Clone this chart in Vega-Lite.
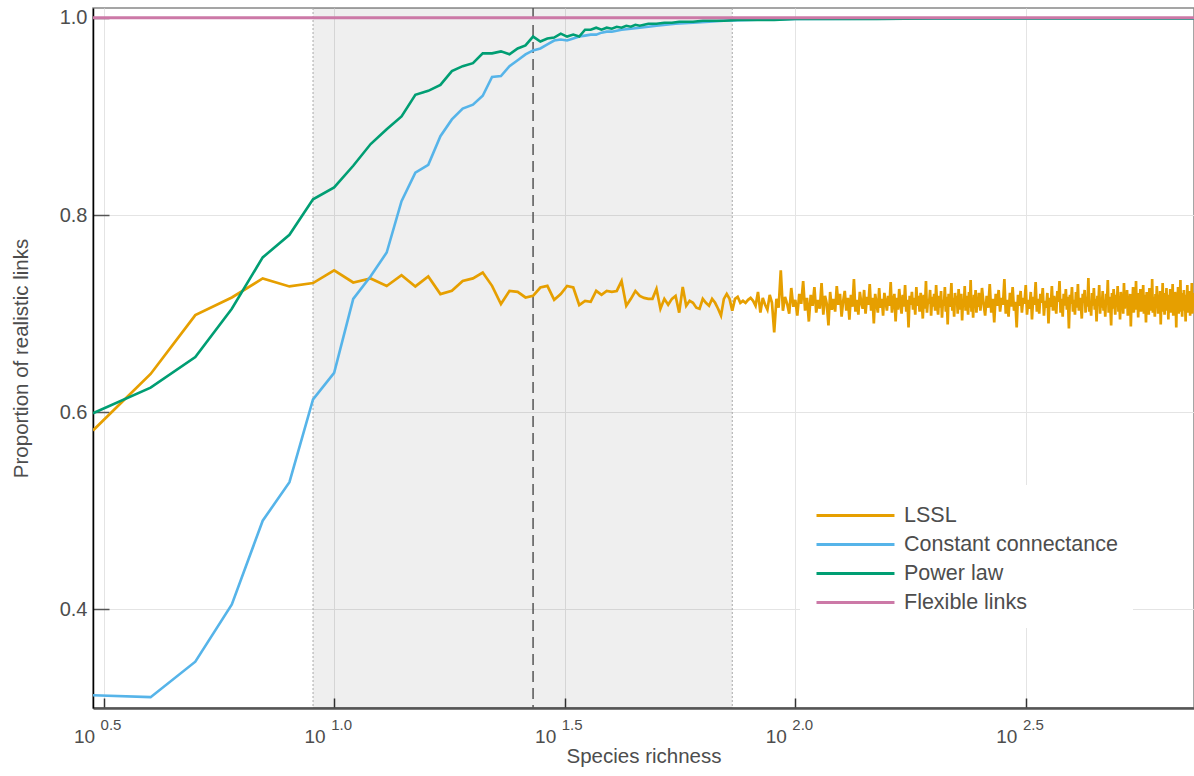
{
  "$schema": "https://vega.github.io/schema/vega-lite/v6.json",
  "width": 1101,
  "height": 700,
  "autosize": {"type": "none"},
  "padding": {"left": 93, "top": 8, "right": 0, "bottom": 68},
  "background": "white",
  "config": {
    "font": "Liberation Sans",
    "view": {"stroke": "#888888", "strokeWidth": 1.5},
    "axis": {
      "gridColor": "#e4e4e4",
      "gridWidth": 1,
      "labelColor": "#4d4d4d",
      "titleColor": "#4d4d4d",
      "labelFont": "Liberation Sans",
      "titleFont": "Liberation Sans",
      "titleFontWeight": "normal",
      "labelFontSize": 20,
      "titleFontSize": 20.5
    },
    "legend": {
      "orient": "none",
      "legendX": 707,
      "legendY": 477,
      "padding": 15,
      "fillColor": "white",
      "symbolType": "M-1,0L4.57,0",
      "symbolSize": 784,
      "symbolStrokeWidth": 3,
      "labelFontSize": 21.5,
      "labelFont": "Liberation Sans",
      "labelColor": "#4d4d4d",
      "labelOffset": 58,
      "labelLimit": 400,
      "rowPadding": 3,
      "title": null
    }
  },
  "datasets": {
    "band": [{"S": 9, "S2": 73, "p": 0.3, "p2": 1.01}],
    "edges": [{"S": 9}, {"S": 73}],
    "median": [{"S": 27}],
    "expo": [
      {"S": 3.16228, "lab": "0.5"},
      {"S": 10, "lab": "1.0"},
      {"S": 31.6228, "lab": "1.5"},
      {"S": 100, "lab": "2.0"},
      {"S": 316.228, "lab": "2.5"}
    ],
    "fl": [{"S": 3, "p": 1.0}, {"S": 50, "p": 1.0}, {"S": 735, "p": 1.0}],
    "cc": [
      {"S": 3, "p": 0.313}, {"S": 4, "p": 0.311}, {"S": 5, "p": 0.347}, {"S": 6, "p": 0.405},
      {"S": 7, "p": 0.49}, {"S": 8, "p": 0.529}, {"S": 9, "p": 0.613}, {"S": 10, "p": 0.64},
      {"S": 11, "p": 0.715}, {"S": 12, "p": 0.738}, {"S": 13, "p": 0.762}, {"S": 14, "p": 0.814},
      {"S": 15, "p": 0.843}, {"S": 16, "p": 0.851}, {"S": 17, "p": 0.88}, {"S": 18, "p": 0.897},
      {"S": 19, "p": 0.908}, {"S": 20, "p": 0.912}, {"S": 21, "p": 0.921}, {"S": 22, "p": 0.94},
      {"S": 23, "p": 0.941}, {"S": 24, "p": 0.951}, {"S": 25, "p": 0.957}, {"S": 26, "p": 0.963},
      {"S": 27, "p": 0.967}, {"S": 28, "p": 0.969}, {"S": 29, "p": 0.973}, {"S": 30, "p": 0.977},
      {"S": 31, "p": 0.978}, {"S": 32, "p": 0.977}, {"S": 33, "p": 0.979}, {"S": 34, "p": 0.981},
      {"S": 35, "p": 0.982}, {"S": 36, "p": 0.983}, {"S": 37, "p": 0.983}, {"S": 38, "p": 0.985},
      {"S": 39, "p": 0.986}, {"S": 40, "p": 0.986}, {"S": 41, "p": 0.987}, {"S": 42, "p": 0.988},
      {"S": 44, "p": 0.989}, {"S": 46, "p": 0.99}, {"S": 48, "p": 0.991}, {"S": 50, "p": 0.992},
      {"S": 55, "p": 0.994}, {"S": 60, "p": 0.995}, {"S": 65, "p": 0.996}, {"S": 70, "p": 0.997},
      {"S": 80, "p": 0.998}, {"S": 100, "p": 0.999}, {"S": 735, "p": 0.9995}
    ],
    "pl": [
      {"S": 3, "p": 0.599}, {"S": 4, "p": 0.625}, {"S": 5, "p": 0.656}, {"S": 6, "p": 0.705},
      {"S": 7, "p": 0.757}, {"S": 8, "p": 0.78}, {"S": 9, "p": 0.816}, {"S": 10, "p": 0.828},
      {"S": 11, "p": 0.85}, {"S": 12, "p": 0.872}, {"S": 13, "p": 0.887}, {"S": 14, "p": 0.9},
      {"S": 15, "p": 0.922}, {"S": 16, "p": 0.926}, {"S": 17, "p": 0.932}, {"S": 18, "p": 0.946},
      {"S": 19, "p": 0.951}, {"S": 20, "p": 0.954}, {"S": 21, "p": 0.964}, {"S": 22, "p": 0.964},
      {"S": 23, "p": 0.966}, {"S": 24, "p": 0.963}, {"S": 25, "p": 0.969}, {"S": 26, "p": 0.972},
      {"S": 27, "p": 0.981}, {"S": 28, "p": 0.976}, {"S": 29, "p": 0.979}, {"S": 30, "p": 0.98},
      {"S": 31, "p": 0.984}, {"S": 32, "p": 0.981}, {"S": 33, "p": 0.983}, {"S": 34, "p": 0.981},
      {"S": 35, "p": 0.988}, {"S": 36, "p": 0.988}, {"S": 37, "p": 0.99}, {"S": 38, "p": 0.988},
      {"S": 39, "p": 0.99}, {"S": 40, "p": 0.989}, {"S": 41, "p": 0.991}, {"S": 42, "p": 0.99},
      {"S": 43, "p": 0.992}, {"S": 44, "p": 0.991}, {"S": 45, "p": 0.993}, {"S": 46, "p": 0.992},
      {"S": 47, "p": 0.993}, {"S": 48, "p": 0.994}, {"S": 50, "p": 0.994}, {"S": 52, "p": 0.995},
      {"S": 54, "p": 0.995}, {"S": 56, "p": 0.996}, {"S": 58, "p": 0.996}, {"S": 60, "p": 0.996},
      {"S": 63, "p": 0.997}, {"S": 66, "p": 0.997}, {"S": 70, "p": 0.997}, {"S": 75, "p": 0.998},
      {"S": 80, "p": 0.998}, {"S": 90, "p": 0.998}, {"S": 100, "p": 0.999}, {"S": 150, "p": 0.999},
      {"S": 200, "p": 0.9995}, {"S": 735, "p": 0.9995}
    ],
    "lssl": [
      {"S": 3, "p": 0.5815}, {"S": 4, "p": 0.6388}, {"S": 5, "p": 0.6985}, {"S": 6, "p": 0.7164},
      {"S": 7, "p": 0.7357}, {"S": 8, "p": 0.7276}, {"S": 9, "p": 0.731}, {"S": 10, "p": 0.744},
      {"S": 11, "p": 0.7316}, {"S": 12, "p": 0.7357}, {"S": 13, "p": 0.728}, {"S": 14, "p": 0.739},
      {"S": 15, "p": 0.7276}, {"S": 16, "p": 0.7377}, {"S": 17, "p": 0.7198}, {"S": 18, "p": 0.7231},
      {"S": 19, "p": 0.7332}, {"S": 20, "p": 0.7357}, {"S": 21, "p": 0.7417}, {"S": 22, "p": 0.7282},
      {"S": 23, "p": 0.7097}, {"S": 24, "p": 0.7231}, {"S": 25, "p": 0.7221}, {"S": 26, "p": 0.7164},
      {"S": 27, "p": 0.718}, {"S": 28, "p": 0.7265}, {"S": 29, "p": 0.7282}, {"S": 30, "p": 0.714},
      {"S": 31, "p": 0.7198}, {"S": 32, "p": 0.728}, {"S": 33, "p": 0.7265}, {"S": 34, "p": 0.7087},
      {"S": 35, "p": 0.713}, {"S": 36, "p": 0.712}, {"S": 37, "p": 0.7231}, {"S": 38, "p": 0.719},
      {"S": 39, "p": 0.723}, {"S": 40, "p": 0.722}, {"S": 41, "p": 0.723}, {"S": 42, "p": 0.733},
      {"S": 43, "p": 0.708}, {"S": 44, "p": 0.715}, {"S": 45, "p": 0.723}, {"S": 46, "p": 0.718},
      {"S": 47, "p": 0.716}, {"S": 48, "p": 0.715}, {"S": 49, "p": 0.715}, {"S": 50, "p": 0.725},
      {"S": 51, "p": 0.705}, {"S": 52, "p": 0.715}, {"S": 53, "p": 0.709}, {"S": 54, "p": 0.715},
      {"S": 55, "p": 0.718}, {"S": 56, "p": 0.701}, {"S": 57, "p": 0.727}, {"S": 58, "p": 0.708},
      {"S": 59, "p": 0.713}, {"S": 60, "p": 0.711}, {"S": 61, "p": 0.706}, {"S": 62, "p": 0.705},
      {"S": 63, "p": 0.715}, {"S": 64, "p": 0.711}, {"S": 65, "p": 0.708}, {"S": 66, "p": 0.715},
      {"S": 67, "p": 0.711}, {"S": 68, "p": 0.705}, {"S": 69, "p": 0.698}, {"S": 70, "p": 0.715},
      {"S": 71, "p": 0.72}, {"S": 72, "p": 0.715}, {"S": 73, "p": 0.703}, {"S": 74, "p": 0.715},
      {"S": 75, "p": 0.717}, {"S": 76, "p": 0.711}, {"S": 77, "p": 0.713}, {"S": 78, "p": 0.711},
      {"S": 79, "p": 0.714}, {"S": 80, "p": 0.716},
      {"S": 81, "p": 0.713}, {"S": 82, "p": 0.708}, {"S": 83, "p": 0.722}, {"S": 84, "p": 0.701},
      {"S": 85, "p": 0.716}, {"S": 86, "p": 0.709}, {"S": 87, "p": 0.704}, {"S": 88, "p": 0.719},
      {"S": 89, "p": 0.711}, {"S": 90, "p": 0.681}, {"S": 91, "p": 0.715}, {"S": 92, "p": 0.706},
      {"S": 93, "p": 0.744}, {"S": 94, "p": 0.703}, {"S": 95, "p": 0.717}, {"S": 96, "p": 0.71},
      {"S": 97, "p": 0.7}, {"S": 98, "p": 0.726}, {"S": 99, "p": 0.707}, {"S": 100, "p": 0.714},
      {"S": 101, "p": 0.698}, {"S": 102, "p": 0.72}, {"S": 103, "p": 0.71}, {"S": 104, "p": 0.733},
      {"S": 105, "p": 0.703}, {"S": 106, "p": 0.716}, {"S": 107, "p": 0.692}, {"S": 108, "p": 0.719},
      {"S": 109, "p": 0.708}, {"S": 110, "p": 0.727}, {"S": 111, "p": 0.701}, {"S": 112, "p": 0.714},
      {"S": 113, "p": 0.705}, {"S": 114, "p": 0.731}, {"S": 115, "p": 0.699}, {"S": 116, "p": 0.718},
      {"S": 117, "p": 0.71}, {"S": 118, "p": 0.688}, {"S": 119, "p": 0.722}, {"S": 120, "p": 0.704},
      {"S": 121, "p": 0.715}, {"S": 122, "p": 0.702}, {"S": 123, "p": 0.728}, {"S": 124, "p": 0.709},
      {"S": 125, "p": 0.72}, {"S": 126, "p": 0.697}, {"S": 127, "p": 0.713}, {"S": 128, "p": 0.723},
      {"S": 129, "p": 0.703}, {"S": 130, "p": 0.716}, {"S": 131, "p": 0.694}, {"S": 132, "p": 0.719},
      {"S": 133, "p": 0.707}, {"S": 134, "p": 0.735}, {"S": 135, "p": 0.702}, {"S": 136, "p": 0.714},
      {"S": 137, "p": 0.699}, {"S": 138, "p": 0.722}, {"S": 139, "p": 0.711}, {"S": 140, "p": 0.705},
      {"S": 141, "p": 0.724}, {"S": 142, "p": 0.7}, {"S": 143, "p": 0.717}, {"S": 144, "p": 0.709},
      {"S": 145, "p": 0.73}, {"S": 146, "p": 0.703}, {"S": 147, "p": 0.716}, {"S": 148, "p": 0.69},
      {"S": 149, "p": 0.72}, {"S": 150, "p": 0.71}, {"S": 151, "p": 0.701}, {"S": 152, "p": 0.726},
      {"S": 153, "p": 0.706}, {"S": 154, "p": 0.715}, {"S": 155, "p": 0.698}, {"S": 156, "p": 0.721},
      {"S": 157, "p": 0.712}, {"S": 158, "p": 0.703}, {"S": 159, "p": 0.718}, {"S": 160, "p": 0.708},
      {"S": 161, "p": 0.732}, {"S": 162, "p": 0.701}, {"S": 163, "p": 0.713}, {"S": 164, "p": 0.72},
      {"S": 165, "p": 0.692}, {"S": 166, "p": 0.716}, {"S": 167, "p": 0.704}, {"S": 168, "p": 0.725},
      {"S": 169, "p": 0.711}, {"S": 170, "p": 0.7}, {"S": 171, "p": 0.719}, {"S": 172, "p": 0.707},
      {"S": 173, "p": 0.729}, {"S": 174, "p": 0.702}, {"S": 175, "p": 0.714}, {"S": 176, "p": 0.686},
      {"S": 177, "p": 0.718}, {"S": 178, "p": 0.709}, {"S": 179, "p": 0.722}, {"S": 180, "p": 0.704},
      {"S": 181, "p": 0.716}, {"S": 182, "p": 0.699}, {"S": 183, "p": 0.727}, {"S": 184, "p": 0.708},
      {"S": 185, "p": 0.718}, {"S": 186, "p": 0.702}, {"S": 187, "p": 0.721}, {"S": 188, "p": 0.712},
      {"S": 189, "p": 0.695}, {"S": 190, "p": 0.719}, {"S": 191, "p": 0.705}, {"S": 192, "p": 0.733},
      {"S": 193, "p": 0.701}, {"S": 194, "p": 0.715}, {"S": 195, "p": 0.71}, {"S": 196, "p": 0.724},
      {"S": 197, "p": 0.698}, {"S": 198, "p": 0.717}, {"S": 199, "p": 0.707}, {"S": 200, "p": 0.72},
      {"S": 201, "p": 0.703}, {"S": 202, "p": 0.729}, {"S": 203, "p": 0.709}, {"S": 204, "p": 0.699},
      {"S": 205, "p": 0.718}, {"S": 206, "p": 0.706}, {"S": 207, "p": 0.723}, {"S": 208, "p": 0.696},
      {"S": 209, "p": 0.714}, {"S": 210, "p": 0.708}, {"S": 211, "p": 0.727}, {"S": 212, "p": 0.702},
      {"S": 213, "p": 0.717}, {"S": 214, "p": 0.689}, {"S": 215, "p": 0.72}, {"S": 216, "p": 0.707},
      {"S": 217, "p": 0.713}, {"S": 218, "p": 0.731}, {"S": 219, "p": 0.703}, {"S": 220, "p": 0.716},
      {"S": 221, "p": 0.697}, {"S": 222, "p": 0.721}, {"S": 223, "p": 0.709}, {"S": 224, "p": 0.718},
      {"S": 225, "p": 0.7}, {"S": 226, "p": 0.725}, {"S": 227, "p": 0.711}, {"S": 228, "p": 0.704},
      {"S": 229, "p": 0.72}, {"S": 230, "p": 0.693}, {"S": 231, "p": 0.715}, {"S": 232, "p": 0.707},
      {"S": 233, "p": 0.728}, {"S": 234, "p": 0.703}, {"S": 235, "p": 0.718}, {"S": 236, "p": 0.71},
      {"S": 237, "p": 0.699}, {"S": 238, "p": 0.722}, {"S": 239, "p": 0.706}, {"S": 240, "p": 0.734},
      {"S": 241, "p": 0.702}, {"S": 242, "p": 0.716}, {"S": 243, "p": 0.696}, {"S": 244, "p": 0.719},
      {"S": 245, "p": 0.709}, {"S": 246, "p": 0.724}, {"S": 247, "p": 0.701}, {"S": 248, "p": 0.713},
      {"S": 249, "p": 0.707}, {"S": 250, "p": 0.721},
      {"S": 252, "p": 0.703}, {"S": 254, "p": 0.726}, {"S": 256, "p": 0.71}, {"S": 258, "p": 0.698},
      {"S": 260, "p": 0.718}, {"S": 262, "p": 0.706}, {"S": 264, "p": 0.73}, {"S": 266, "p": 0.701},
      {"S": 268, "p": 0.715}, {"S": 270, "p": 0.691}, {"S": 272, "p": 0.72}, {"S": 274, "p": 0.708},
      {"S": 276, "p": 0.724}, {"S": 278, "p": 0.702}, {"S": 280, "p": 0.716}, {"S": 282, "p": 0.709},
      {"S": 284, "p": 0.735}, {"S": 286, "p": 0.7}, {"S": 288, "p": 0.714}, {"S": 290, "p": 0.697},
      {"S": 292, "p": 0.721}, {"S": 294, "p": 0.707}, {"S": 296, "p": 0.727}, {"S": 298, "p": 0.703},
      {"S": 300, "p": 0.712}, {"S": 302, "p": 0.686}, {"S": 304, "p": 0.719}, {"S": 306, "p": 0.708},
      {"S": 308, "p": 0.723}, {"S": 310, "p": 0.701}, {"S": 312, "p": 0.716}, {"S": 314, "p": 0.71},
      {"S": 316, "p": 0.729}, {"S": 318, "p": 0.699}, {"S": 320, "p": 0.714}, {"S": 322, "p": 0.705},
      {"S": 324, "p": 0.722}, {"S": 326, "p": 0.694}, {"S": 328, "p": 0.717}, {"S": 330, "p": 0.709},
      {"S": 332, "p": 0.732}, {"S": 334, "p": 0.702}, {"S": 336, "p": 0.715}, {"S": 338, "p": 0.7},
      {"S": 340, "p": 0.72}, {"S": 342, "p": 0.711}, {"S": 344, "p": 0.726}, {"S": 346, "p": 0.698},
      {"S": 348, "p": 0.713}, {"S": 350, "p": 0.706}, {"S": 352, "p": 0.721}, {"S": 354, "p": 0.69},
      {"S": 356, "p": 0.716}, {"S": 358, "p": 0.707}, {"S": 360, "p": 0.728}, {"S": 362, "p": 0.703},
      {"S": 364, "p": 0.718}, {"S": 366, "p": 0.709}, {"S": 368, "p": 0.7}, {"S": 370, "p": 0.723},
      {"S": 372, "p": 0.712}, {"S": 374, "p": 0.733}, {"S": 376, "p": 0.701}, {"S": 378, "p": 0.715},
      {"S": 380, "p": 0.697}, {"S": 382, "p": 0.72}, {"S": 384, "p": 0.708}, {"S": 386, "p": 0.725},
      {"S": 388, "p": 0.704}, {"S": 390, "p": 0.717}, {"S": 392, "p": 0.685}, {"S": 394, "p": 0.719},
      {"S": 396, "p": 0.71}, {"S": 398, "p": 0.727}, {"S": 400, "p": 0.702},
      {"S": 402, "p": 0.714}, {"S": 404, "p": 0.699}, {"S": 406, "p": 0.722}, {"S": 408, "p": 0.706},
      {"S": 410, "p": 0.73}, {"S": 412, "p": 0.703}, {"S": 414, "p": 0.716}, {"S": 416, "p": 0.709},
      {"S": 418, "p": 0.695}, {"S": 420, "p": 0.72}, {"S": 422, "p": 0.711}, {"S": 424, "p": 0.724},
      {"S": 426, "p": 0.701}, {"S": 428, "p": 0.717}, {"S": 430, "p": 0.707}, {"S": 432, "p": 0.736},
      {"S": 434, "p": 0.702}, {"S": 436, "p": 0.713}, {"S": 438, "p": 0.698}, {"S": 440, "p": 0.721},
      {"S": 442, "p": 0.708}, {"S": 444, "p": 0.726}, {"S": 446, "p": 0.704}, {"S": 448, "p": 0.715},
      {"S": 450, "p": 0.692}, {"S": 452, "p": 0.718}, {"S": 454, "p": 0.709}, {"S": 456, "p": 0.729},
      {"S": 458, "p": 0.7}, {"S": 460, "p": 0.716}, {"S": 462, "p": 0.706}, {"S": 464, "p": 0.723},
      {"S": 466, "p": 0.703}, {"S": 468, "p": 0.714}, {"S": 470, "p": 0.697}, {"S": 472, "p": 0.72},
      {"S": 474, "p": 0.71}, {"S": 476, "p": 0.734}, {"S": 478, "p": 0.701}, {"S": 480, "p": 0.717},
      {"S": 482, "p": 0.708}, {"S": 484, "p": 0.688}, {"S": 486, "p": 0.721}, {"S": 488, "p": 0.705},
      {"S": 490, "p": 0.725}, {"S": 492, "p": 0.712}, {"S": 494, "p": 0.699}, {"S": 496, "p": 0.719},
      {"S": 498, "p": 0.707}, {"S": 500, "p": 0.728}, {"S": 502, "p": 0.702}, {"S": 504, "p": 0.715},
      {"S": 506, "p": 0.694}, {"S": 508, "p": 0.722}, {"S": 510, "p": 0.709}, {"S": 512, "p": 0.718},
      {"S": 514, "p": 0.7}, {"S": 516, "p": 0.731}, {"S": 518, "p": 0.705}, {"S": 520, "p": 0.716},
      {"S": 522, "p": 0.708}, {"S": 524, "p": 0.724}, {"S": 526, "p": 0.698}, {"S": 528, "p": 0.713},
      {"S": 530, "p": 0.703}, {"S": 532, "p": 0.72}, {"S": 534, "p": 0.687}, {"S": 536, "p": 0.717},
      {"S": 538, "p": 0.71}, {"S": 540, "p": 0.727}, {"S": 542, "p": 0.701}, {"S": 544, "p": 0.714},
      {"S": 546, "p": 0.706}, {"S": 548, "p": 0.733}, {"S": 550, "p": 0.704}, {"S": 552, "p": 0.718},
      {"S": 554, "p": 0.696}, {"S": 556, "p": 0.721}, {"S": 558, "p": 0.709}, {"S": 560, "p": 0.725},
      {"S": 562, "p": 0.702}, {"S": 564, "p": 0.715}, {"S": 566, "p": 0.707}, {"S": 568, "p": 0.729},
      {"S": 570, "p": 0.7}, {"S": 572, "p": 0.719}, {"S": 574, "p": 0.711}, {"S": 576, "p": 0.691},
      {"S": 578, "p": 0.722}, {"S": 580, "p": 0.705}, {"S": 582, "p": 0.716}, {"S": 584, "p": 0.699},
      {"S": 586, "p": 0.726}, {"S": 588, "p": 0.708}, {"S": 590, "p": 0.714}, {"S": 592, "p": 0.703},
      {"S": 594, "p": 0.735}, {"S": 596, "p": 0.701}, {"S": 598, "p": 0.717}, {"S": 600, "p": 0.709},
      {"S": 602, "p": 0.697}, {"S": 604, "p": 0.72}, {"S": 606, "p": 0.706}, {"S": 608, "p": 0.728},
      {"S": 610, "p": 0.712}, {"S": 612, "p": 0.7}, {"S": 614, "p": 0.718}, {"S": 616, "p": 0.704},
      {"S": 618, "p": 0.723}, {"S": 620, "p": 0.689}, {"S": 622, "p": 0.716}, {"S": 624, "p": 0.708},
      {"S": 626, "p": 0.731}, {"S": 628, "p": 0.702}, {"S": 630, "p": 0.714}, {"S": 632, "p": 0.699},
      {"S": 634, "p": 0.721}, {"S": 636, "p": 0.71}, {"S": 638, "p": 0.726}, {"S": 640, "p": 0.703},
      {"S": 642, "p": 0.717}, {"S": 644, "p": 0.694}, {"S": 646, "p": 0.719}, {"S": 648, "p": 0.707},
      {"S": 650, "p": 0.725}, {"S": 652, "p": 0.701}, {"S": 654, "p": 0.715}, {"S": 656, "p": 0.709},
      {"S": 658, "p": 0.73}, {"S": 660, "p": 0.698}, {"S": 662, "p": 0.718}, {"S": 664, "p": 0.705},
      {"S": 666, "p": 0.722}, {"S": 668, "p": 0.711}, {"S": 670, "p": 0.686}, {"S": 672, "p": 0.72},
      {"S": 674, "p": 0.704}, {"S": 676, "p": 0.727}, {"S": 678, "p": 0.7}, {"S": 680, "p": 0.716},
      {"S": 682, "p": 0.708}, {"S": 684, "p": 0.734}, {"S": 686, "p": 0.702}, {"S": 688, "p": 0.713},
      {"S": 690, "p": 0.697}, {"S": 692, "p": 0.721}, {"S": 694, "p": 0.71}, {"S": 696, "p": 0.724},
      {"S": 698, "p": 0.703}, {"S": 700, "p": 0.717}, {"S": 702, "p": 0.692}, {"S": 704, "p": 0.719},
      {"S": 706, "p": 0.706}, {"S": 708, "p": 0.729}, {"S": 710, "p": 0.701}, {"S": 712, "p": 0.715},
      {"S": 714, "p": 0.709}, {"S": 716, "p": 0.723}, {"S": 718, "p": 0.698}, {"S": 720, "p": 0.717},
      {"S": 722, "p": 0.704}, {"S": 724, "p": 0.731}, {"S": 726, "p": 0.7}, {"S": 728, "p": 0.714},
      {"S": 730, "p": 0.707}, {"S": 732, "p": 0.721}
    ]
  },
  "layer": [
    {
      "data": {"name": "band"},
      "mark": {"type": "rect", "color": "#000000", "opacity": 0.063},
      "encoding": {
        "x": {
          "field": "S",
          "type": "quantitative",
          "scale": {"type": "log", "domain": [3, 732], "nice": false},
          "axis": {
            "title": "Species richness",
            "values": [3.16228, 10, 31.6228, 100, 316.228],
            "labelExpr": "'10'",
            "labelAlign": "right",
            "labelBaseline": "middle",
            "labelOffset": -9,
            "labelPadding": 38,
            "labelFontSize": 19,
            "tickSize": -10,
            "tickColor": "#333333",
            "tickWidth": 1.5,
            "domainColor": "#555555",
            "domainWidth": 2.5,
            "titlePadding": 0,
            "titleFontSize": 20.5
          }
        },
        "x2": {"field": "S2"},
        "y": {
          "field": "p",
          "type": "quantitative",
          "scale": {"domain": [0.3, 1.01], "nice": false, "zero": false},
          "axis": {
            "title": "Proportion of realistic links",
            "values": [0.4, 0.6, 0.8, 1.0],
            "format": ".1f",
            "tickSize": -16,
            "tickColor": "#555555",
            "tickWidth": 1.5,
            "domainColor": "#000000",
            "domainWidth": 1.5,
            "labelPadding": 22,
            "titlePadding": 28,
            "titleFontSize": 20.5
          }
        },
        "y2": {"field": "p2"}
      }
    },
    {
      "data": {"name": "edges"},
      "mark": {"type": "rule", "color": "#aaaaaa", "strokeDash": [2, 2], "strokeWidth": 1},
      "encoding": {"x": {"field": "S", "type": "quantitative"}}
    },
    {
      "data": {"name": "median"},
      "mark": {"type": "rule", "color": "#555555", "strokeDash": [11, 6], "strokeWidth": 1.5},
      "encoding": {"x": {"field": "S", "type": "quantitative"}}
    },
    {
      "data": {"name": "lssl"},
      "mark": {"type": "line", "strokeWidth": 2.7, "clip": true},
      "encoding": {
        "x": {"field": "S", "type": "quantitative"},
        "y": {"field": "p", "type": "quantitative"},
        "color": {
          "datum": "LSSL",
          "type": "nominal",
          "scale": {
            "domain": ["LSSL", "Constant connectance", "Power law", "Flexible links"],
            "range": ["#E69F00", "#56B4E9", "#009E73", "#CC79A7"]
          },
          "legend": {"title": null}
        }
      }
    },
    {
      "data": {"name": "cc"},
      "mark": {"type": "line", "strokeWidth": 2.6, "clip": true},
      "encoding": {
        "x": {"field": "S", "type": "quantitative"},
        "y": {"field": "p", "type": "quantitative"},
        "color": {"datum": "Constant connectance", "type": "nominal"}
      }
    },
    {
      "data": {"name": "pl"},
      "mark": {"type": "line", "strokeWidth": 2.6, "clip": true},
      "encoding": {
        "x": {"field": "S", "type": "quantitative"},
        "y": {"field": "p", "type": "quantitative"},
        "color": {"datum": "Power law", "type": "nominal"}
      }
    },
    {
      "data": {"name": "fl"},
      "mark": {"type": "line", "strokeWidth": 3, "clip": true},
      "encoding": {
        "x": {"field": "S", "type": "quantitative"},
        "y": {"field": "p", "type": "quantitative"},
        "color": {"datum": "Flexible links", "type": "nominal"}
      }
    },
    {
      "data": {"name": "expo"},
      "mark": {"type": "text", "align": "left", "baseline": "middle", "dx": -3, "dy": 17, "fontSize": 15, "color": "#4d4d4d", "font": "Liberation Sans"},
      "encoding": {
        "x": {"field": "S", "type": "quantitative"},
        "y": {"datum": 0.3, "type": "quantitative"},
        "text": {"field": "lab"}
      }
    }
  ]
}
